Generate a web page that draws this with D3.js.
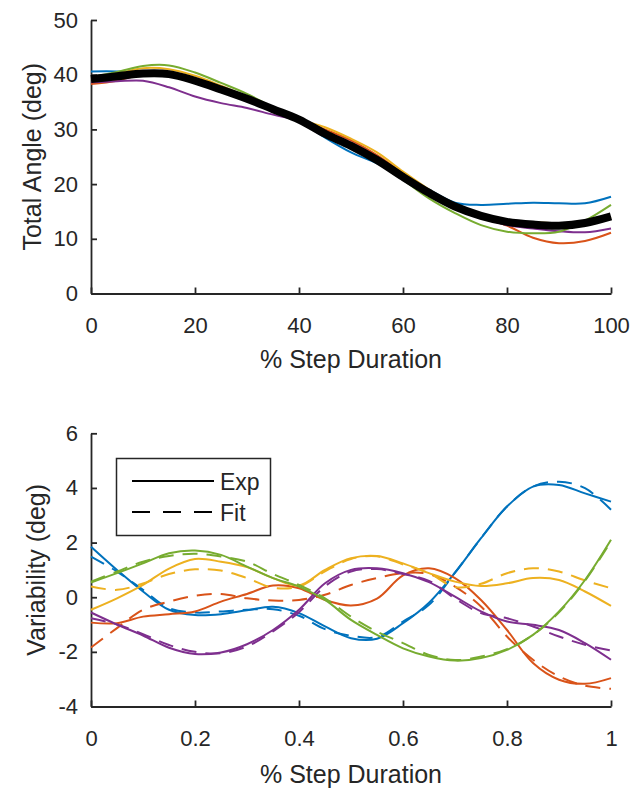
<!DOCTYPE html>
<html>
<head>
<meta charset="utf-8">
<script src="https://cdn.jsdelivr.net/npm/d3@7"></script>
<style>
  body { margin: 0; background: #fff; }
  text { font-family: "Liberation Sans", Arial, Helvetica, sans-serif; fill: #262626; }
</style>
</head>
<body>
<div id="chart"></div>
<script>
// ---- data ----
const stepPct = [0, 5, 10, 15, 20, 25, 30, 35, 40, 45, 50, 55, 60, 65, 70, 75, 80, 85, 90, 95, 100];
const stepFrac = [0, 0.05, 0.1, 0.15, 0.2, 0.25, 0.3, 0.35, 0.4, 0.45, 0.5, 0.55, 0.6, 0.65, 0.7, 0.75, 0.8, 0.85, 0.9, 0.95, 1];

// top: total angle per trial (deg)
const angleBlue   = [40.6, 40.6, 40.3, 39.8, 38.6, 37.0, 35.3, 33.5, 31.6, 28.5, 25.8, 23.8, 21.4, 19.0, 16.6, 16.2, 16.4, 16.6, 16.5, 16.5, 17.7];
const angleOrange = [38.3, 38.9, 40.1, 40.2, 38.9, 37.3, 35.6, 33.8, 31.9, 30.0, 28.0, 25.3, 22.0, 18.8, 16.0, 14.0, 12.4, 10.2, 9.2, 9.6, 11.1];
const angleYellow = [39.3, 40.2, 41.2, 41.0, 39.8, 38.0, 36.0, 34.0, 31.9, 30.4, 28.3, 25.8, 22.3, 19.0, 16.2, 14.3, 13.3, 13.0, 12.8, 12.9, 14.0];
const anglePurple = [38.6, 38.8, 38.9, 37.7, 36.0, 34.8, 33.9, 32.7, 31.6, 29.6, 27.6, 25.0, 21.7, 18.6, 16.0, 14.0, 12.5, 11.9, 11.4, 11.2, 11.9];
const angleGreen  = [39.6, 40.5, 41.6, 41.7, 40.4, 38.5, 36.5, 34.0, 31.8, 29.5, 26.8, 24.0, 20.8, 17.4, 14.7, 12.5, 11.3, 11.0, 11.3, 13.3, 16.2];
const angleMean   = [39.2, 39.7, 40.2, 40.1, 38.9, 37.3, 35.6, 33.7, 31.8, 29.2, 27.0, 24.4, 21.3, 18.4, 15.9, 14.2, 13.1, 12.6, 12.4, 12.9, 14.1];

// bottom: variability, experiment (solid) and fit (dashed)
const expBlue   = [1.85, 1.0, 0.21, -0.46, -0.65, -0.62, -0.48, -0.35, -0.58, -1.07, -1.5, -1.52, -0.95, -0.2, 0.9, 2.16, 3.32, 4.05, 4.11, 3.8, 3.5];
const fitBlue   = [1.49, 0.94, 0.27, -0.4, -0.56, -0.52, -0.46, -0.44, -0.68, -1.17, -1.41, -1.46, -0.89, -0.28, 0.9, 2.16, 3.32, 4.05, 4.23, 3.99, 3.2];
const expOrange = [-0.93, -0.95, -0.71, -0.62, -0.52, -0.16, 0.12, 0.43, 0.33, -0.1, -0.3, -0.05, 0.8, 1.06, 0.7, -0.1, -1.2, -2.41, -3.02, -3.17, -2.96];
const fitOrange = [-1.84, -1.13, -0.46, -0.16, 0.05, 0.12, -0.04, -0.12, -0.1, 0.09, 0.45, 0.7, 0.88, 0.85, 0.39, -0.34, -1.44, -2.29, -2.9, -3.24, -3.35];
const expYellow = [-0.46, -0.04, 0.45, 1.05, 1.4, 1.3, 1.1, 0.7, 0.43, 1.0, 1.43, 1.51, 1.24, 0.88, 0.57, 0.41, 0.51, 0.7, 0.63, 0.21, -0.32];
const fitYellow = [0.39, 0.27, 0.5, 0.85, 1.02, 0.98, 0.7, 0.35, 0.39, 0.95, 1.4, 1.5, 1.2, 0.88, 0.37, 0.49, 0.88, 1.06, 0.94, 0.61, 0.33];
const expPurple = [-0.56, -1.0, -1.4, -1.85, -2.08, -2.02, -1.72, -1.2, -0.46, 0.51, 1.0, 1.06, 0.88, 0.55, 0.02, -0.52, -0.89, -1.01, -1.2, -1.68, -2.29];
const fitPurple = [-0.77, -1.0, -1.35, -1.75, -2.0, -2.05, -1.8, -1.25, -0.55, 0.4, 0.94, 1.03, 0.85, 0.6, -0.05, -0.58, -0.77, -1.07, -1.44, -1.74, -1.95];
const expGreen  = [0.54, 0.88, 1.24, 1.61, 1.71, 1.55, 1.12, 0.7, 0.39, -0.1, -0.83, -1.38, -1.87, -2.17, -2.32, -2.23, -1.93, -1.38, -0.52, 0.63, 2.1];
const fitGreen  = [0.57, 0.94, 1.3, 1.51, 1.59, 1.49, 1.3, 0.85, 0.45, -0.04, -0.71, -1.26, -1.68, -2.11, -2.3, -2.17, -1.9, -1.38, -0.55, 0.6, 2.05];

const topXTicks = [0, 20, 40, 60, 80, 100];
const topYTicks = [0, 10, 20, 30, 40, 50];
const botXTicks = [0, 0.2, 0.4, 0.6, 0.8, 1];
const botYTicks = [-4, -2, 0, 2, 4, 6];
const legendLabels = ["Exp", "Fit"];

const colors = ["#0072BD", "#D95319", "#EDB120", "#7E2F8E", "#77AC30"];

(function() {
  const W = 644, H = 788;
  const ink = "#262626";

  let svg = d3.select("#chart").append("svg")
    .attr("width", W).attr("height", H);

  // draws a matlab-ish box-off axes and returns scales
  function makeAxes(box, xDom, yDom, xTicks, yTicks, xLabel, yLabel, yLabelX, xLabelDy) {
    let x = d3.scaleLinear().domain(xDom).range([box.left, box.right]);
    let y = d3.scaleLinear().domain(yDom).range([box.bottom, box.top]);

    let g = svg.append("g");

    g.append("g")
      .attr("transform", "translate(0," + box.bottom + ")")
      .call(d3.axisBottom(x).tickValues(xTicks).tickFormat(d => String(d))
        .tickSizeInner(-6).tickSizeOuter(0).tickPadding(24))
      .call(sel => sel.selectAll("text").style("font-size", "22px"));

    g.append("g")
      .attr("transform", "translate(" + box.left + ",0)")
      .call(d3.axisLeft(y).tickValues(yTicks).tickFormat(d => String(d))
        .tickSizeInner(-6).tickSizeOuter(0).tickPadding(13))
      .call(sel => sel.selectAll("text").style("font-size", "22px"));

    g.selectAll(".domain, .tick line")
      .attr("stroke", ink).attr("stroke-width", 1.8);
    g.selectAll(".tick text").attr("fill", ink).attr("font-family", null);

    g.append("text")
      .attr("x", (box.left + box.right) / 2)
      .attr("y", box.bottom + xLabelDy)
      .attr("text-anchor", "middle")
      .style("font-size", "25px")
      .text(xLabel);

    g.append("text")
      .attr("transform", "translate(" + yLabelX + "," + (box.top + box.bottom) / 2 + ") rotate(-90)")
      .attr("text-anchor", "middle")
      .style("font-size", "25px")
      .text(yLabel);

    return { x: x, y: y };
  }

  function drawLine(sc, xs, ys, color, width, dash) {
    let line = d3.line()
      .x((d, i) => sc.x(xs[i]))
      .y(d => sc.y(d))
      .curve(d3.curveCatmullRom.alpha(0.5));
    svg.append("path")
      .datum(ys)
      .attr("d", line)
      .attr("fill", "none")
      .attr("stroke", color)
      .attr("stroke-width", width)
      .attr("stroke-linejoin", "round")
      .attr("stroke-dasharray", dash || null);
  }

  // ---- top panel ----
  let top = makeAxes({ left: 91, right: 611, top: 20, bottom: 293.5 },
    [0, 100], [0, 50], topXTicks, topYTicks,
    "% Step Duration", "Total Angle (deg)", 41, 74);

  [angleBlue, angleOrange, angleYellow, anglePurple, angleGreen].forEach(function(s, i) {
    drawLine(top, stepPct, s, colors[i], 2);
  });
  drawLine(top, stepPct, angleMean, "#000", 8);

  // ---- bottom panel ----
  let bot = makeAxes({ left: 91, right: 611, top: 433.3, bottom: 706.5 },
    [0, 1], [-4, 6], botXTicks, botYTicks,
    "% Step Duration", "Variability (deg)", 45, 76);

  let exps = [expBlue, expOrange, expYellow, expPurple, expGreen];
  let fits = [fitBlue, fitOrange, fitYellow, fitPurple, fitGreen];
  exps.forEach(function(s, i) {
    drawLine(bot, stepFrac, s, colors[i], 2);
    drawLine(bot, stepFrac, fits[i], colors[i], 2, "15,9");
  });

  // ---- legend ----
  let leg = svg.append("g");
  leg.append("rect")
    .attr("x", 116.5).attr("y", 458.5).attr("width", 154).attr("height", 77)
    .attr("fill", "#fff").attr("stroke", ink).attr("stroke-width", 1.5);
  [["", 481], ["18,13", 512]].forEach(function(d, i) {
    leg.append("line")
      .attr("x1", 132).attr("x2", 214).attr("y1", d[1]).attr("y2", d[1])
      .attr("stroke", "#000").attr("stroke-width", 1.8)
      .attr("stroke-dasharray", d[0] || null);
    leg.append("text")
      .attr("x", 220).attr("y", d[1] + 9)
      .style("font-size", "23px")
      .text(legendLabels[i]);
  });
})();
</script>
</body>
</html>
